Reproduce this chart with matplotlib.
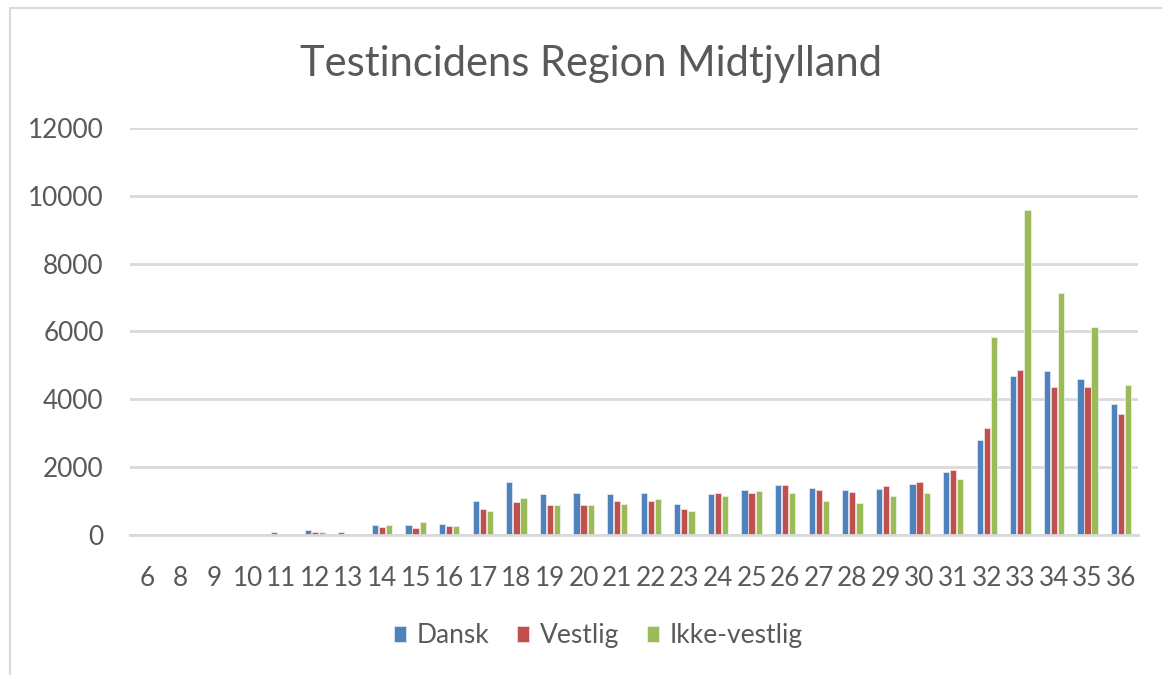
import matplotlib.pyplot as plt
import numpy as np
from matplotlib.patches import Rectangle

weeks = ["6", "8", "9", "10", "11", "12", "13", "14", "15", "16", "17", "18",
         "19", "20", "21", "22", "23", "24", "25", "26", "27", "28", "29",
         "30", "31", "32", "33", "34", "35", "36"]

dansk = [0, 0, 0, 0, 80, 150, 80, 300, 300, 335, 1000, 1560, 1195, 1235,
         1195, 1235, 910, 1195, 1335, 1475, 1385, 1315, 1365, 1515, 1870,
         2800, 4690, 4830, 4600, 3860]
vestlig = [0, 0, 0, 0, 0, 90, 0, 250, 200, 255, 775, 960, 870, 870, 1000,
           1000, 780, 1235, 1235, 1475, 1335, 1280, 1455, 1555, 1930, 3165,
           4870, 4365, 4365, 3580]
ikke_vestlig = [0, 0, 0, 0, 0, 90, 0, 300, 380, 255, 720, 1100, 870, 870,
                900, 1050, 720, 1140, 1285, 1235, 1000, 950, 1140, 1225,
                1645, 5840, 9580, 7130, 6120, 4415]

plt.rcParams['font.family'] = ['Lato', 'DejaVu Sans']
grey_txt = '#595959'
grid_col = '#d9d9d9'

fig = plt.figure(figsize=(11.62, 6.75), dpi=100)
ax = fig.add_axes([0.1119, 0.2074, 0.8674, 0.603])

x = np.arange(len(weeks))
w = 0.185
step = 0.21
ax.bar(x - step, dansk, w, color='#4F81BD', edgecolor='#dce6f2', linewidth=0.6, label='Dansk', zorder=3)
ax.bar(x, vestlig, w, color='#C0504D', edgecolor='#f2dcdb', linewidth=0.6, label='Vestlig', zorder=3)
ax.bar(x + step, ikke_vestlig, w, color='#9BBB59', edgecolor='#ebf1de', linewidth=0.6, label='Ikke-vestlig', zorder=3)

ax.set_xlim(-0.5, len(weeks) - 0.5)
ax.set_ylim(0, 12000)
ax.set_yticks(range(0, 12001, 2000))
ax.set_xticks(x)
ax.set_xticklabels(weeks)
ax.yaxis.grid(True, color=grid_col, linewidth=2, zorder=0)
for s in ['top', 'right', 'left']:
    ax.spines[s].set_visible(False)
ax.spines['bottom'].set_color(grid_col)
ax.spines['bottom'].set_linewidth(2)
ax.spines['bottom'].set_zorder(4)
ax.tick_params(axis='both', length=0, labelsize=18.8, colors=grey_txt)
ax.tick_params(axis='y', pad=19)
ax.tick_params(axis='x', pad=22)

fig.text(0.509, 0.905, 'Testincidens Region Midtjylland', ha='center', va='center',
         fontsize=30, color=grey_txt)

leg = fig.legend(loc='center', bbox_to_anchor=(0.515, 0.058), ncol=3, frameon=False,
                 fontsize=19, handlelength=0.45, handleheight=0.6, handletextpad=0.4,
                 columnspacing=1.05)
for t in leg.get_texts():
    t.set_color(grey_txt)

fig.add_artist(Rectangle((10 / 1162, -0.1), 1.2, 1 - 8 / 675 + 0.1, transform=fig.transFigure,
                         fill=False, edgecolor=grid_col, linewidth=1.5))

fig.savefig('out.png', dpi=100)
